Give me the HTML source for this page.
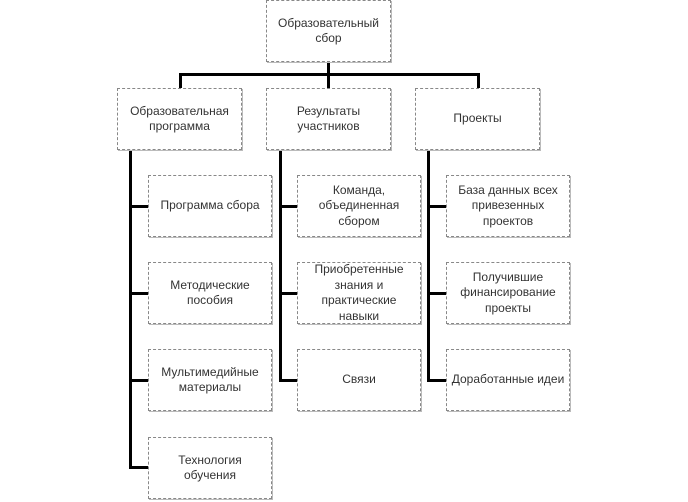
<!DOCTYPE html>
<html><head><meta charset="utf-8"><style>
body{margin:0;width:688px;height:502px;background:#fff;position:relative;overflow:hidden;font-family:"Liberation Sans","DejaVu Sans",sans-serif;}
.b{position:absolute;box-sizing:border-box;border:1px dashed #888;background:#fff;box-shadow:1px 1px 0 #bbb;display:flex;align-items:center;justify-content:center;text-align:center;font-size:12px;line-height:15.5px;color:#333;}
.l{position:absolute;background:#000;}
</style></head><body>
<div class="l" style="left:179px;top:73px;width:301px;height:3px"></div>
<div class="l" style="left:179px;top:73px;width:3px;height:16px"></div>
<div class="l" style="left:477px;top:73px;width:3px;height:16px"></div>
<div class="l" style="left:327px;top:61px;width:3px;height:28px"></div>
<div class="l" style="left:129px;top:149px;width:3px;height:320px"></div>
<div class="l" style="left:279px;top:149px;width:3px;height:233px"></div>
<div class="l" style="left:427px;top:149px;width:3px;height:233px"></div>
<div class="l" style="left:129px;top:205px;width:20px;height:3px"></div>
<div class="l" style="left:129px;top:292px;width:20px;height:3px"></div>
<div class="l" style="left:129px;top:379px;width:20px;height:3px"></div>
<div class="l" style="left:129px;top:466px;width:20px;height:3px"></div>
<div class="l" style="left:279px;top:205px;width:19px;height:3px"></div>
<div class="l" style="left:279px;top:292px;width:19px;height:3px"></div>
<div class="l" style="left:279px;top:379px;width:19px;height:3px"></div>
<div class="l" style="left:427px;top:205px;width:20px;height:3px"></div>
<div class="l" style="left:427px;top:292px;width:20px;height:3px"></div>
<div class="l" style="left:427px;top:379px;width:20px;height:3px"></div>

<div class="b" style="left:266px;top:0;width:125px;height:62px">Образовательный<br>сбор</div>
<div class="b" style="left:117px;top:88px;width:125px;height:62px">Образовательная<br>программа</div>
<div class="b" style="left:266px;top:88px;width:125px;height:62px">Результаты<br>участников</div>
<div class="b" style="left:415px;top:88px;width:125px;height:62px">Проекты</div>

<div class="b" style="left:148px;top:175px;width:124px;height:62px">Программа сбора</div>
<div class="b" style="left:148px;top:262px;width:124px;height:62px">Методические<br>пособия</div>
<div class="b" style="left:148px;top:349px;width:124px;height:62px">Мультимедийные<br>материалы</div>
<div class="b" style="left:148px;top:437px;width:124px;height:62px">Технология<br>обучения</div>

<div class="b" style="left:297px;top:175px;width:124px;height:62px">Команда,<br>объединенная<br>сбором</div>
<div class="b" style="left:297px;top:262px;width:124px;height:62px">Приобретенные<br>знания и<br>практические<br>навыки</div>
<div class="b" style="left:297px;top:349px;width:124px;height:62px">Связи</div>

<div class="b" style="left:446px;top:175px;width:124px;height:62px">База данных всех<br>привезенных<br>проектов</div>
<div class="b" style="left:446px;top:262px;width:124px;height:62px">Получившие<br>финансирование<br>проекты</div>
<div class="b" style="left:446px;top:349px;width:124px;height:62px">Доработанные идеи</div>
</body></html>
